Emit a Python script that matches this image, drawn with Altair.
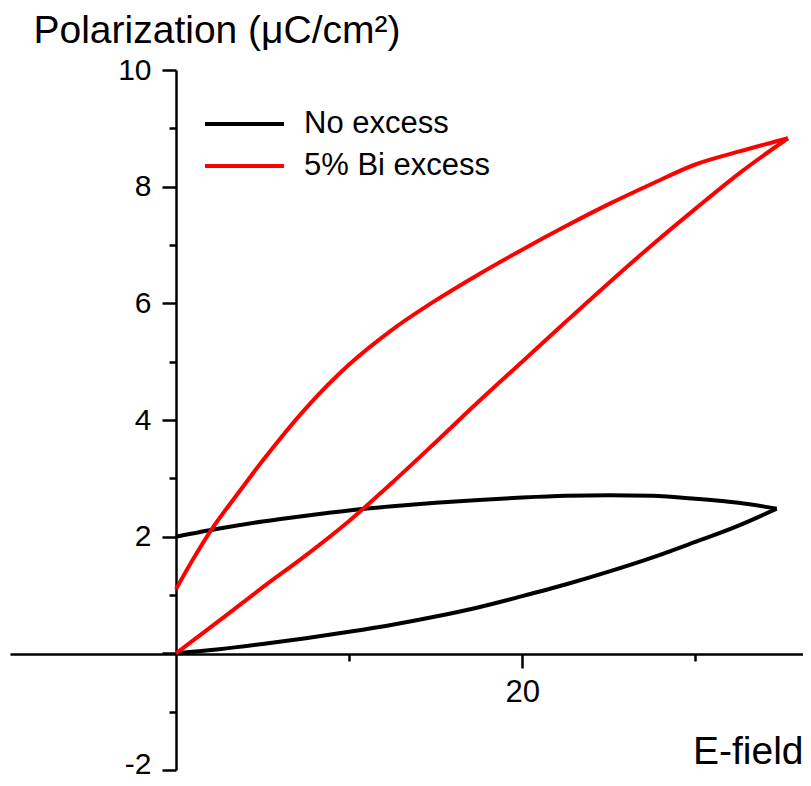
import altair as alt
import pandas as pd

# ---- data ----
series_names = ["No excess", "5% Bi excess"]
series_colors = ["#000000", "#ff0000"]

black_upper_E = [0, 2.5, 5, 7.5, 10, 12.5, 15, 17.5, 20, 22.5, 25, 27.5, 30, 32.5, 34.7]
black_upper_P = [2.0, 2.14, 2.26, 2.36, 2.45, 2.52, 2.58, 2.63, 2.67, 2.70, 2.71, 2.70, 2.65, 2.58, 2.48]
black_lower_E = [0, 2.5, 5, 7.5, 10, 12.5, 15, 17.5, 20, 22.5, 25, 27.5, 30, 32.5, 34.7]
black_lower_P = [0, 0.07, 0.16, 0.26, 0.37, 0.49, 0.63, 0.79, 0.98, 1.18, 1.40, 1.64, 1.91, 2.19, 2.48]

red_upper_E = [0, 1, 2, 3.5, 5, 7.5, 10, 12.5, 15, 17.5, 20, 22.5, 25, 27.5, 30, 32.5, 35.35]
red_upper_P = [1.1, 1.62, 2.1, 2.71, 3.3, 4.2, 4.95, 5.55, 6.05, 6.5, 6.92, 7.32, 7.7, 8.05, 8.38, 8.6, 8.83]
red_lower_E = [0, 2.5, 5, 7.5, 10, 12.5, 15, 17.5, 20, 22.5, 25, 27.5, 30, 32.5, 35.35]
red_lower_P = [0, 0.56, 1.13, 1.68, 2.27, 2.93, 3.62, 4.32, 5.0, 5.68, 6.35, 7.0, 7.62, 8.22, 8.83]

y_ticks = list(range(-2, 11))
x_ticks = [10, 20, 30]

rows = []
for name, branch, es, ps in [
    (series_names[0], "b_up", black_upper_E, black_upper_P),
    (series_names[0], "b_lo", black_lower_E, black_lower_P),
    (series_names[1], "r_up", red_upper_E, red_upper_P),
    (series_names[1], "r_lo", red_lower_E, red_lower_P),
]:
    for i, (e, p) in enumerate(zip(es, ps)):
        rows.append({"E": e, "P": p, "series": name, "branch": branch, "order": i})
df = pd.DataFrame(rows)

FONT = "Liberation Sans"

x_axis = alt.Axis(
    orient="bottom",
    offset=-116,
    values=x_ticks,
    labelExpr="datum.value === 20 ? datum.label : ''",
    tickSize={"condition": {"test": "datum.value === 20", "value": 14}, "value": 7},
    labelFontSize=31,
    labelPadding=9,
    labelFont=FONT,
    labelColor="#000",
    domainColor="#000",
    domainWidth=2.5,
    tickColor="#000",
    tickWidth=2.5,
    grid=False,
    title="E-field",
    titleFont=FONT,
    titleFontSize=39,
    titleFontWeight="normal",
    titleColor="#000",
    titleAlign="right",
    titleAnchor="end",
    titleBaseline="alphabetic",
    titleX=793,
    titleY=109,
)

y_axis = alt.Axis(
    orient="left",
    offset=-166,
    values=y_ticks,
    labelExpr="(datum.value % 2 === 0 && datum.value !== 0) ? replace(datum.label, '\u2212', '-') : ''",
    tickSize={"condition": {"test": "datum.value % 2 === 0", "value": 14}, "value": 7},
    labelOffset={"condition": {"test": "datum.value === -2", "value": -6}, "value": 0},
    labelFontSize=30,
    labelPadding=11,
    labelFont=FONT,
    labelColor="#000",
    domainColor="#000",
    domainWidth=2.5,
    tickColor="#000",
    tickWidth=2.5,
    grid=False,
    title="Polarization (μC/cm²)",
    titleFont=FONT,
    titleFontSize=39,
    titleFontWeight="normal",
    titleColor="#000",
    titleAngle=0,
    titleAlign="left",
    titleBaseline="alphabetic",
    titleX=-143,
    titleY=-28,
)

chart = (
    alt.Chart(df)
    .mark_line(strokeWidth=4, interpolate="monotone")
    .encode(
        x=alt.X("E:Q", scale=alt.Scale(domain=[-9.59, 36.22], nice=False, zero=False), axis=x_axis),
        y=alt.Y("P:Q", scale=alt.Scale(domain=[-2, 10], nice=False, zero=False), axis=y_axis),
        color=alt.Color(
            "series:N",
            scale=alt.Scale(domain=series_names, range=series_colors),
            sort=series_names,
            legend=alt.Legend(
                title=None,
                orient="none",
                legendX=193,
                legendY=37,
                symbolType="stroke",
                symbolSize=6241,
                symbolStrokeWidth=4,
                clipHeight=34,
                rowPadding=8,
                labelFont=FONT,
                labelFontSize=31,
                labelColor="#000",
                labelOffset=18,
                labelLimit=400,
                padding=0,
            ),
        ),
        detail="branch:N",
        order="order:Q",
    )
    .properties(
        width=793,
        height=700,
        autosize="none",
        background="white",
        padding={"left": 2, "top": 62, "right": 0, "bottom": 8},
    )
    .configure_view(stroke=None, strokeWidth=0)
)

chart.save("out.html", embed_options={"renderer": "svg", "actions": False})
